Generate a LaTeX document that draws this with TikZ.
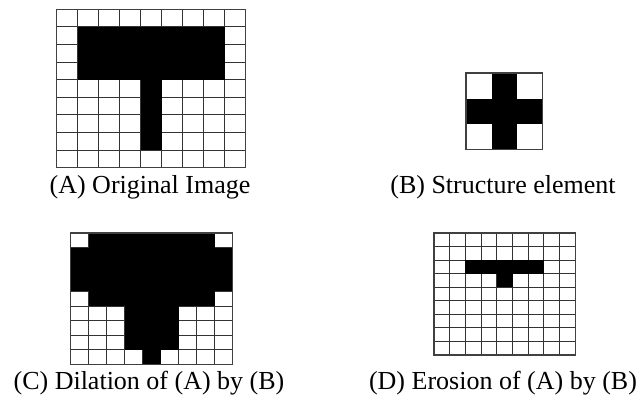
\documentclass[tikz,border=0pt]{standalone}
\usepackage{fontspec}
\setmainfont{Liberation Serif}
\begin{document}
\begin{tikzpicture}[x=1pt,y=-1pt,
  gridline/.style={draw=black!80, line width=1pt},
  border/.style={draw=black!75, line width=1.3pt},
  caption/.style={font=\fontsize{26}{30}\selectfont, anchor=base, inner sep=0pt}]
\useasboundingbox (0,0) rectangle (642,396);
% (A) original image
\begin{scope}[shift={(56.5pt,-9.3pt)}, x=21pt, y=-17.6pt]
  \foreach \i in {0,...,9} {
    \draw[gridline] (\i,0) -- (\i,9);
    \draw[gridline] (0,\i) -- (9,\i);
  }
  \fill (1,1) rectangle (8,4);
  \fill (4,4) rectangle (5,8);
  \draw[border] (0,0) rectangle (9,9);
\end{scope}
% (B) structure element
\begin{scope}[shift={(466pt,-73pt)}, x=25.5pt, y=-25.5pt]
  \fill (1,0) rectangle (2,3);
  \fill (0,1) rectangle (3,2);
  \draw[border] (0,0) rectangle (3,3);
\end{scope}
% (C) dilation
\begin{scope}[shift={(70.5pt,-233pt)}, x=18pt, y=-14.6pt]
  \foreach \i in {0,...,9} {
    \draw[gridline] (\i,0) -- (\i,9);
    \draw[gridline] (0,\i) -- (9,\i);
  }
  \fill (1,0) rectangle (8,5);
  \fill (0,1) rectangle (9,4);
  \fill (3,4) rectangle (6,8);
  \fill (4,8) rectangle (5,9);
  \draw[border] (0,0) rectangle (9,9);
\end{scope}
% (D) erosion
\begin{scope}[shift={(434pt,-233pt)}, x=15.7pt, y=-13.55pt]
  \foreach \i in {0,...,9} {
    \draw[gridline] (\i,0) -- (\i,9);
    \draw[gridline] (0,\i) -- (9,\i);
  }
  \fill (2,2) rectangle (7,3);
  \fill (4,3) rectangle (5,4);
  \draw[border] (0,0) rectangle (9,9);
\end{scope}
% captions
\node[caption] (capA) at (150,193) {(A) Original Image};
\node[caption] (capB) at (503,193) {(B) Structure element};
\node[caption] (capC) at (149,389) {(C) Dilation of (A) by (B)};
\node[caption] (capD) at (503,389) {(D) Erosion of (A) by (B)};
\end{tikzpicture}
\end{document}
